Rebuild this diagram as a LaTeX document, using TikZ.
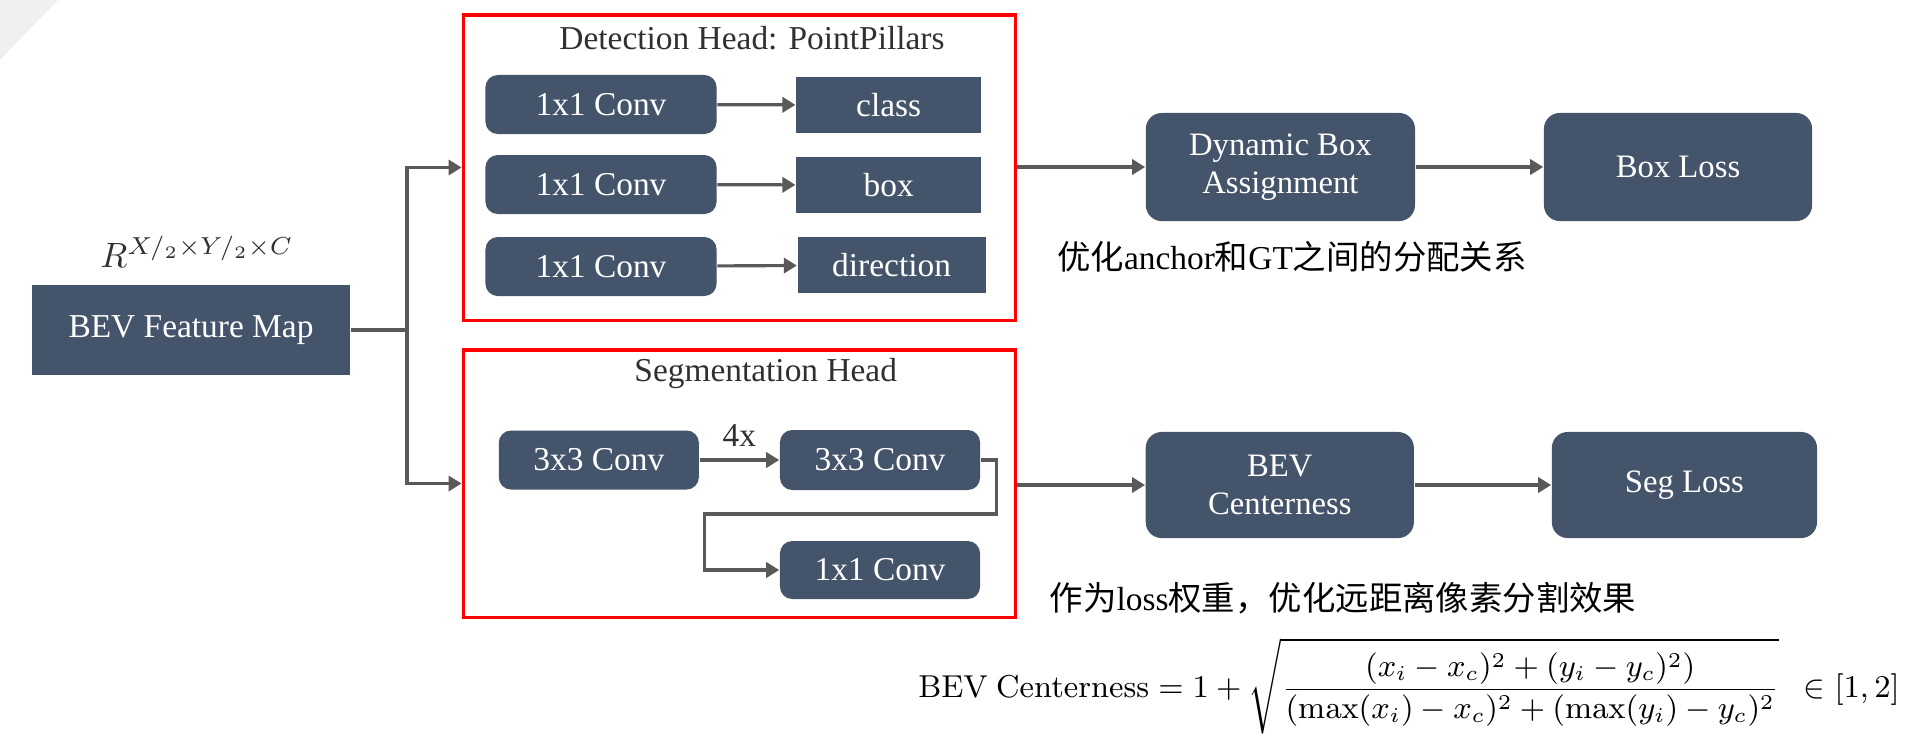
\documentclass[tikz,border=0pt]{standalone}
\usepackage{amsmath}
\usepackage[no-math]{fontspec}
\setmainfont{Liberation Serif}
\newfontfamily\cjk{Noto Sans CJK SC}
\usetikzlibrary{arrows.meta,calc}
\definecolor{slate}{HTML}{44546A}
\definecolor{arrowgray}{HTML}{595959}
\definecolor{titlegray}{HTML}{303030}
\tikzset{
  blk/.style={fill=slate, text=white, inner sep=0pt, align=center, font=\fontsize{9.5}{12}\selectfont},
  convbox/.style={blk, rounded corners=3.5pt},
  outbox/.style={blk},
  lossbox/.style={blk, rounded corners=4.5pt, font=\fontsize{9.3}{10.8}\selectfont},
  headframe/.style={draw=red, line width=0.9pt, inner sep=0pt},
  arr/.style={draw=arrowgray, line width=0.9pt, -{Triangle[length=3.7pt,width=4.3pt]}},
  wire/.style={draw=arrowgray, line width=0.9pt},
  headtitle/.style={text=titlegray, font=\fontsize{9.5}{11}\selectfont},
  note/.style={text=black, font=\fontsize{9.5}{11}\selectfont},
}

\begin{document}
\begin{tikzpicture}[x=0.01cm, y=-0.01cm]
		%%%%% START %%%%%
		\useasboundingbox (0, 0) rectangle (1916, 741);
		\fill[black!6] (0, 0) -- (58, 0) -- (0, 60) -- cycle;
		
		% input
		\node[outbox, minimum width=3.18cm, minimum height=0.89cm] (feat) at (191, 330) {BEV Feature Map};
		\node[text=titlegray] (dims) at (197, 252) {$R^{X/_2\times Y/_2\times C}$};
		
		% detection head
		\node[headframe, minimum width=5.52cm, minimum height=3.05cm] (det) at (739.3, 167.5) {};
		\node[headtitle] (dettitle) at (752, 38) {Detection Head: PointPillars};
		\node[convbox, minimum width=2.31cm, minimum height=0.59cm] (c1) at (601, 104.5) {1x1 Conv};
		\node[convbox, minimum width=2.31cm, minimum height=0.59cm] (c2) at (601, 184.5) {1x1 Conv};
		\node[convbox, minimum width=2.31cm, minimum height=0.59cm] (c3) at (601, 266.5) {1x1 Conv};
		\node[outbox, minimum width=1.85cm, minimum height=0.56cm] (cls) at (888.7, 105) {class};
		\node[outbox, minimum width=1.85cm, minimum height=0.56cm] (bx) at (888.7, 185) {box};
		\node[outbox, minimum width=1.88cm, minimum height=0.56cm] (dir) at (891.6, 265) {direction};
		\draw[arr] (c1) -- (cls);
		\draw[arr] (c2) -- (bx);
		\draw[arr] (c3) -- (dir);
		
		% segmentation head
		\node[headframe, minimum width=5.52cm, minimum height=2.67cm] (seg) at (739.3, 483.5) {};
		\node[headtitle] (segtitle) at (765.7, 373) {Segmentation Head};
		\node[convbox, minimum width=2.0cm, minimum height=0.59cm] (s1) at (598.8, 460) {3x3 Conv};
		\node[convbox, minimum width=2.0cm, minimum height=0.60cm] (s2) at (880, 460) {3x3 Conv};
		\node[convbox, minimum width=2.0cm, minimum height=0.58cm] (s3) at (880, 570) {1x1 Conv};
		\draw[arr] (s1) -- node[above, text=titlegray, font=\fontsize{9.5}{11}\selectfont] {4x} (s2);
		\coordinate (back) at (704.5, 514);
		\draw[arr] (s2.east) -- ++(16, 0) |- (back) |- (s3.west);
		
		% split
		\coordinate (split) at (407, 330);
		\draw[wire] (feat.east) -- (split);
		\draw[arr] (split) |- (det.west);
		\draw[arr] (split) |- (seg.west);
		
		% losses
		\node[lossbox, minimum width=2.69cm, minimum height=1.08cm] (dyn) at (1280.4, 167) {Dynamic Box\\Assignment};
		\node[lossbox, minimum width=2.68cm, minimum height=1.08cm] (boxloss) at (1678, 167) {Box Loss};
		\node[lossbox, minimum width=2.68cm, minimum height=1.06cm] (cen) at (1279.8, 485) {BEV\\Centerness};
		\node[lossbox, minimum width=2.65cm, minimum height=1.06cm] (segloss) at (1684.4, 485) {Seg Loss};
		\draw[arr] (det.east |- dyn) -- (dyn);
		\draw[arr] (dyn) -- (boxloss);
		\draw[arr] (seg.east |- cen) -- (cen);
		\draw[arr] (cen) -- (segloss);
		
		\node[note] (note1) at (1292, 257) {{\cjk 优化}anchor{\cjk 和}GT{\cjk 之间的分配关系}};
		\node[note] (note2) at (1343, 598) {{\cjk 作为}loss{\cjk 权重，优化远距离像素分割效果}};
		\node[font=\fontsize{9}{11}\selectfont] (eq) at (1409, 686) {$\displaystyle \mathrm{BEV\ Centerness} = 1+\sqrt{\frac{(x_i-x_c)^2+(y_i-y_c)^2)}{(\max(x_i)-x_c)^2+(\max(y_i)-y_c)^2}}\enspace\in[1,2]$};
		%%%%% END %%%%%
\end{tikzpicture}
\end{document}
